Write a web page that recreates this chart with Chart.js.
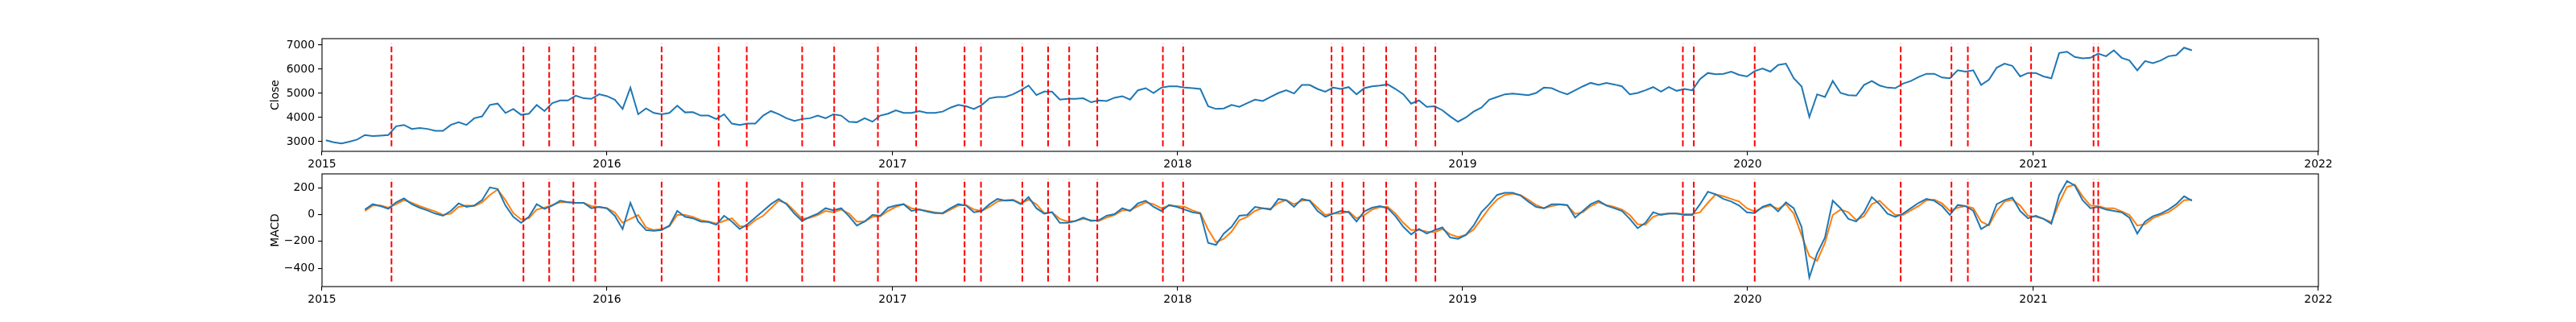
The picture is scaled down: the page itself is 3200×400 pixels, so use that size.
<!DOCTYPE html>
<html>
<head>
<meta charset="utf-8">
<script src="https://cdn.jsdelivr.net/npm/chart.js@4.4.0/dist/chart.umd.min.js"></script>
<style>
  html, body { margin: 0; padding: 0; background: #fff; }
  #wrap { position: relative; width: 3200px; height: 400px; }
  canvas { position: absolute; left: 0; }
  #top { top: 0; }
  #bot { top: 200px; }
</style>
</head>
<body>
<div id="wrap">
  <canvas id="top" width="3200" height="216"></canvas>
  <canvas id="bot" width="3200" height="200"></canvas>
</div>
<script>
// readings every 10 days, first close point on closeStart, first MACD point on macdStart
const closeStart = '2015-01-06';
const macdStart = '2015-02-25';
const stepDays = 10;

const closeVals = [
  3055, 2978, 2923, 3000, 3088, 3275, 3231, 3253, 3275, 3639, 3694, 3529, 3562, 3529, 3452, 3452, 3694, 3804, 3694, 3970,
  4047, 4521, 4576, 4190, 4355, 4113, 4157, 4521, 4267, 4598, 4708, 4708, 4906, 4796, 4774, 4961, 4884, 4741, 4355, 5237,
  4135, 4377, 4190,
  4135, 4190, 4488, 4212, 4223, 4080, 4080, 3937, 4135, 3749, 3694, 3749, 3749, 4080, 4267, 4135, 3970, 3859, 3937, 3970,
  4080, 3970, 4135, 4080, 3826, 3804, 3970, 3826, 4080, 4157, 4300, 4190, 4190, 4267, 4190, 4190, 4245, 4410, 4521, 4465,
  4355, 4521, 4796, 4851,
  4851, 4961, 5127, 5325, 4928, 5071, 5071, 4741, 4774, 4774, 4796, 4631, 4708, 4686, 4818, 4884, 4741, 5127, 5215, 5016,
  5237, 5292, 5292, 5237, 5215, 5182, 4465, 4355, 4377, 4521, 4443, 4598, 4741, 4686, 4851, 5016, 5127, 4994, 5347, 5347,
  5182, 5071, 5237,
  5182, 5259, 4961, 5215, 5292, 5325, 5369, 5182, 4961, 4576, 4708, 4443, 4465, 4300, 4047, 3826, 4002, 4245, 4410, 4741,
  4851, 4961, 4994, 4961, 4928, 5016, 5237, 5215, 5071, 4961, 5127, 5292, 5435, 5347, 5435, 5369, 5292, 4961, 5016, 5127,
  5259, 5071, 5259,
  5105, 5182, 5127, 5590, 5843, 5788, 5810, 5898, 5766, 5700, 5920, 6030, 5898, 6173, 6229, 5623, 5292, 4025, 4961, 4851,
  5512, 5016, 4928, 4906, 5347, 5512, 5325, 5237, 5215, 5402, 5512, 5678, 5810, 5810, 5656, 5623, 5953, 5898, 5953, 5347,
  5567, 6063, 6229,
  6140, 5700, 5843, 5843, 5700, 5623, 6669, 6724, 6504, 6449, 6471, 6647, 6537, 6780, 6471, 6361, 5953, 6339, 6251, 6361,
  6537, 6581, 6890, 6780
];

const macdVals = [
  37, 77, 63, 43, 91, 120, 77, 51, 31, 7, -9, 27, 83, 57, 67, 107, 202, 190, 67, -17,
  -62, -17, 77, 43, 67, 103, 91, 87, 87, 47, 57, 47, -9, -108, 87, -52, -116, -122,
  -116, -82, 27, -17, -28, -52, -56, -76, -9, -52, -108, -72, -23, 27, 77, 116, 77, 7, -48, -17,
  7, 47, 31, 47, -13, -82, -52, -3, -9, 51, 67, 77, 27, 37, 23, 11, 11, 47, 77, 67, 17, 27, 77, 116,
  103, 107, 77, 130, 47, 7, 17, -62, -62, -48, -23, -48, -42, -9, 3, 47, 27, 83, 103, 57,
  27, 71, 57, 37, 17, 7, -211, -227, -142, -92, -9, -3, 57, 47, 37, 116, 107, 57, 116, 103, 27, -17, 7,
  27, 17, -52, 23, 51, 63, 47, -13, -92, -148, -108, -142, -116, -96, -171, -181, -152, -82, 17, 77,
  146, 162, 162, 142, 97, 57, 47, 77, 77, 71, -23, 27, 77, 103, 67, 47, 27, -32, -102, -62, 17, -3, 7,
  7, -3, -3, 77, 170, 150, 116, 97, 67, 17, 11, 57, 77, 23, 91, 47, -92, -469, -291, -172,
  103, 47, -32, -52, 17, 130, 77, 7, -17, 7, 47, 87, 116, 103, 63, -3, 71, 63, 27, -108, -72, 77, 107,
  126, 27, -28, -9, -32, -68, 146, 250, 216, 107, 47, 57, 37, 27, 17, -23, -142, -52, -13, 7, 37, 77, 136, 103
];

const signalVals = [
  27, 67, 67, 51, 77, 107, 87, 63, 43, 23, -3, 7, 57, 67, 63, 91, 146, 186, 107, 11,
  -36, -28, 37, 51, 71, 91, 93, 87, 87, 63, 55, 47, 17, -62, -32, -3, -96, -116,
  -108, -88, -3, -3, -17, -42, -52, -68, -48, -28, -88, -88, -42, -9, 47, 103, 83, 27, -32, -24,
  -3, 27, 17, 37, 7, -52, -52, -17, -13, 27, 57, 77, 47, 37, 27, 17, 7, 37, 67, 71, 37, 27, 57, 97,
  107, 111, 83, 111, 77, 11, 17, -32, -52, -48, -32, -42, -48, -23, -3, 31, 31, 63, 91, 77,
  47, 67, 63, 57, 31, 11, -112, -207, -181, -128, -42, -17, 27, 47, 43, 87, 107, 77, 103, 107, 51, -3, 7,
  7, 23, -28, -3, 37, 55, 57, 7, -62, -116, -116, -128, -132, -108, -148, -168, -152, -112, -32, 47,
  111, 146, 156, 146, 111, 71, 47, 63, 75, 67, 5, 17, 63, 91, 71, 57, 37, -3, -72, -76, -17, 3, 7,
  7, 3, 3, 17, 87, 150, 136, 116, 97, 47, 23, 51, 67, 43, 77, 7, -152, -310, -345, -211,
  -3, 37, 17, -42, -13, 77, 103, 47, -3, -3, 31, 63, 107, 111, 83, 27, 51, 63, 47, -52, -82, 27, 97,
  111, 67, -9, -17, -32, -56, 87, 206, 222, 136, 67, 63, 47, 47, 23, -3, -82, -72, -28, -3, 17, 57, 107, 111
];

// dates of the red dashed markers
const signalDates = [
  '2015-03-31', '2015-09-16', '2015-10-19', '2015-11-19', '2015-12-17',
  '2016-03-11', '2016-05-23', '2016-06-28', '2016-09-07', '2016-10-18', '2016-12-13',
  '2017-01-31', '2017-04-03', '2017-04-24', '2017-06-16', '2017-07-19', '2017-08-15', '2017-09-20', '2017-12-13',
  '2018-01-08', '2018-07-17', '2018-07-31', '2018-08-27', '2018-09-25', '2018-11-02', '2018-11-27',
  '2019-10-10', '2019-10-24', '2020-01-10', '2020-07-15', '2020-09-18', '2020-10-09', '2020-12-29',
  '2021-03-19', '2021-03-25'
];

const yearTicks = [2015, 2016, 2017, 2018, 2019, 2020, 2021, 2022];
const closeTicks = [3000, 4000, 5000, 6000, 7000];
const macdTicks = [-400, -200, 0, 200];
const closeSpan = [2812, 7056];   // markers run from lowest to highest close
const macdSpan = [-499, 265];

const DAY = 86400000;
const BLUE = '#1f77b4', ORANGE = '#ff7f0e', RED = '#ff0000';

function ms(s) { const [y, m, d] = s.split('-').map(Number); return Date.UTC(y, m - 1, d); }
function series(start, vals) { const t0 = ms(start); return vals.map((v, i) => ({ x: t0 + i * stepDays * DAY, y: v })); }
function fmtNum(v) { return v < 0 ? '\u2212' + Math.abs(v) : String(v); }

Chart.defaults.font.family = 'DejaVu Sans';
Chart.defaults.font.size = 13.9;
Chart.defaults.color = '#000';

const frame = {
  id: 'frame',
  afterDatasetsDraw(chart) {
    const { ctx, chartArea: a } = chart;
    ctx.save();
    ctx.strokeStyle = '#000';
    ctx.lineWidth = 1.1;
    ctx.strokeRect(a.left, a.top, a.right - a.left, a.bottom - a.top);
    ctx.restore();
  },
};

function markers(span) {
  return signalDates.map(d => ({
    data: [{ x: ms(d), y: span[0] }, { x: ms(d), y: span[1] }],
    borderColor: RED, borderWidth: 2, borderDash: [7.4, 3.2], pointRadius: 0, order: 0,
  }));
}

function line(data, color) {
  return { data, borderColor: color, borderWidth: 2, pointRadius: 0, tension: 0, order: 1 };
}

function makeChart(sel, datasets, yTicks, yMin, yMax, title, pad) {
  return new Chart(document.querySelector(sel).getContext('2d'), {
    type: 'line',
    data: { datasets },
    plugins: [frame],
    options: {
      responsive: false, animation: false, devicePixelRatio: 1,
      layout: { padding: pad },
      plugins: { legend: { display: false }, tooltip: { enabled: false } },
      scales: {
        x: {
          type: 'linear', min: Date.UTC(2015, 0, 1), max: Date.UTC(2022, 0, 1),
          afterBuildTicks: s => { s.ticks = yearTicks.map(y => ({ value: Date.UTC(y, 0, 1) })); },
          afterFit: s => { s.height = 28; },
          ticks: { autoSkip: false, maxRotation: 0, padding: 3, callback: v => String(new Date(v).getUTCFullYear()) },
          grid: { drawOnChartArea: false, drawTicks: true, tickLength: 5, color: '#000', lineWidth: 1.1 },
          border: { display: false },
        },
        y: {
          type: 'linear', min: yMin, max: yMax,
          afterBuildTicks: s => { s.ticks = yTicks.map(v => ({ value: v })); },
          afterFit: s => { s.width = 66; },
          ticks: { padding: 4, callback: v => fmtNum(v) },
          grid: { drawOnChartArea: false, drawTicks: true, tickLength: 5, color: '#000', lineWidth: 1.1 },
          border: { display: false },
          title: { display: true, text: title, padding: { top: 0, bottom: 0 } },
        },
      },
    },
  });
}

makeChart('#top',
  [line(series(closeStart, closeVals), BLUE)].concat(markers(closeSpan)),
  closeTicks, 2600, 7265, 'Close', { left: 334, right: 320, top: 48, bottom: 0 });

makeChart('#bot',
  [line(series(macdStart, macdVals), BLUE), line(series(macdStart, signalVals), ORANGE)].concat(markers(macdSpan)),
  macdTicks, -537, 303, 'MACD', { left: 334, right: 320, top: 16, bottom: 16 });
</script>
</body>
</html>
